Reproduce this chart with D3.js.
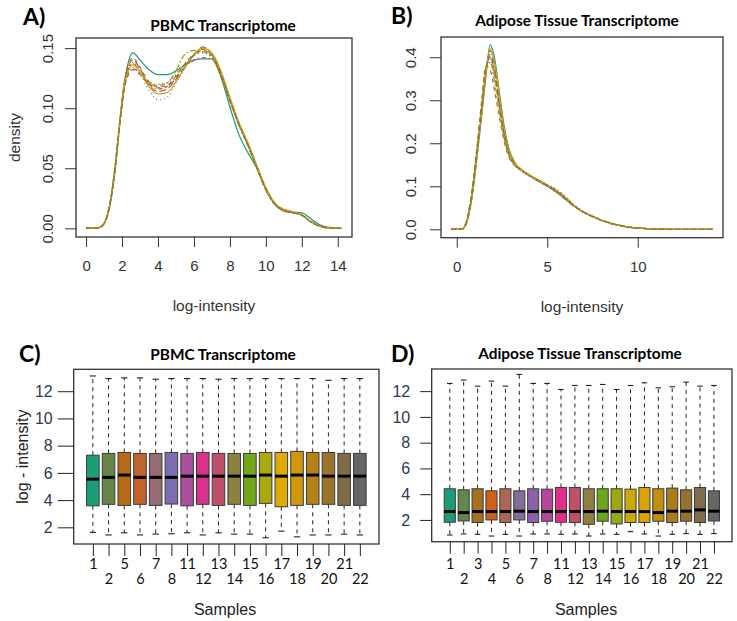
<!DOCTYPE html>
<html><head><meta charset="utf-8">
<script src="https://cdn.jsdelivr.net/npm/d3@7"></script>
<style>body{margin:0;background:#fff}svg{display:block}</style>
</head><body>
<svg id="fig" width="737" height="621"></svg>
<script>
// ---------- DATA ----------
// Panel A: PBMC density curves (log-intensity grid + densities per sample curve)
const pbmcX = [0, 0.7, 1.0, 1.3, 1.6, 1.9, 2.2, 2.6, 3.0, 3.5, 4.0, 4.5, 5.0, 5.5, 6.0, 6.5, 7.0, 7.5, 8.0, 8.5, 9.0, 9.5, 10.0, 10.5, 11.0, 11.5, 12.0, 12.5, 13.0, 13.5, 14.2];
const pbmcDensity1 = [0, 0.0005, 0.004, 0.017, 0.046, 0.090, 0.127, 0.146, 0.140, 0.132, 0.128, 0.128, 0.131, 0.136, 0.140, 0.141, 0.141, 0.126, 0.101, 0.078, 0.063, 0.050, 0.033, 0.021, 0.015, 0.0135, 0.0128, 0.008, 0.003, 0.0008, 0];
const pbmcDensity2 = [0, 0.0005, 0.004, 0.018, 0.049, 0.093, 0.128, 0.142, 0.134, 0.122, 0.118, 0.119, 0.127, 0.137, 0.145, 0.149, 0.143, 0.128, 0.108, 0.088, 0.071, 0.052, 0.033, 0.020, 0.0145, 0.013, 0.011, 0.006, 0.002, 0.0003, 0];
const pbmcDensity3 = [0, 0.0005, 0.004, 0.018, 0.048, 0.090, 0.122, 0.134, 0.128, 0.115, 0.107, 0.109, 0.121, 0.134, 0.144, 0.150, 0.144, 0.129, 0.108, 0.087, 0.070, 0.051, 0.032, 0.020, 0.015, 0.013, 0.011, 0.0055, 0.0018, 0.0003, 0];
const pbmcDensity4 = [0, 0.0005, 0.004, 0.018, 0.048, 0.091, 0.123, 0.133, 0.129, 0.120, 0.116, 0.118, 0.126, 0.134, 0.140, 0.142, 0.141, 0.127, 0.106, 0.086, 0.069, 0.050, 0.032, 0.020, 0.0145, 0.013, 0.011, 0.0055, 0.0018, 0.0003, 0];
const pbmcDensity5 = [0, 0.0005, 0.004, 0.019, 0.050, 0.093, 0.127, 0.140, 0.133, 0.119, 0.114, 0.116, 0.124, 0.134, 0.144, 0.151, 0.145, 0.129, 0.107, 0.086, 0.069, 0.050, 0.032, 0.020, 0.0145, 0.013, 0.011, 0.0055, 0.0018, 0.0003, 0];
const pbmcDensity6 = [0, 0.0005, 0.004, 0.018, 0.049, 0.092, 0.125, 0.137, 0.131, 0.121, 0.119, 0.121, 0.131, 0.145, 0.148, 0.147, 0.142, 0.127, 0.106, 0.086, 0.069, 0.050, 0.032, 0.020, 0.0145, 0.013, 0.011, 0.0055, 0.0018, 0.0003, 0];
const pbmcDensity7 = [0, 0.0005, 0.004, 0.018, 0.049, 0.092, 0.124, 0.136, 0.130, 0.118, 0.112, 0.113, 0.122, 0.134, 0.145, 0.150, 0.146, 0.131, 0.109, 0.088, 0.071, 0.052, 0.034, 0.021, 0.016, 0.014, 0.011, 0.0055, 0.0018, 0.0003, 0];
const pbmcDensity8 = [0, 0.0005, 0.004, 0.018, 0.048, 0.090, 0.121, 0.132, 0.128, 0.120, 0.117, 0.118, 0.125, 0.135, 0.144, 0.148, 0.144, 0.129, 0.107, 0.087, 0.070, 0.051, 0.033, 0.020, 0.015, 0.013, 0.011, 0.0055, 0.0018, 0.0003, 0];
const pbmcDensity9 = [0, 0.0005, 0.004, 0.018, 0.049, 0.092, 0.126, 0.138, 0.132, 0.122, 0.120, 0.121, 0.128, 0.137, 0.144, 0.146, 0.142, 0.127, 0.106, 0.086, 0.069, 0.050, 0.032, 0.020, 0.0145, 0.013, 0.011, 0.0055, 0.0018, 0.0003, 0];

// Panel B: Adipose density curves
const adiposeX = [-0.3, 0.3, 0.55, 0.83, 1.1, 1.38, 1.6, 1.85, 2.1, 2.35, 2.6, 2.9, 3.2, 3.6, 4.0, 4.5, 5.0, 5.5, 6.0, 6.5, 7.0, 7.5, 8.0, 8.5, 9.0, 9.5, 10.0, 10.5, 11.2, 12.0, 14.14];
const adiposeDensity1 = [0, 0.001, 0.015, 0.070, 0.160, 0.265, 0.352, 0.429, 0.395, 0.320, 0.245, 0.185, 0.156, 0.138, 0.126, 0.113, 0.100, 0.087, 0.070, 0.053, 0.040, 0.030, 0.021, 0.014, 0.009, 0.005, 0.003, 0.0015, 0.0005, 0, 0];
const adiposeDensity2 = [0, 0.001, 0.021, 0.088, 0.185, 0.300, 0.380, 0.370, 0.320, 0.262, 0.208, 0.166, 0.148, 0.136, 0.125, 0.115, 0.103, 0.090, 0.072, 0.054, 0.040, 0.030, 0.021, 0.014, 0.009, 0.005, 0.003, 0.0015, 0.0005, 0, 0];
const adiposeDensity3 = [0, 0.001, 0.019, 0.083, 0.178, 0.288, 0.372, 0.395, 0.352, 0.282, 0.218, 0.170, 0.149, 0.135, 0.124, 0.116, 0.105, 0.094, 0.076, 0.056, 0.041, 0.030, 0.021, 0.014, 0.009, 0.005, 0.003, 0.0015, 0.0005, 0, 0];
const adiposeDensity4 = [0, 0.001, 0.017, 0.076, 0.168, 0.275, 0.362, 0.415, 0.378, 0.305, 0.232, 0.178, 0.153, 0.137, 0.127, 0.113, 0.100, 0.086, 0.070, 0.053, 0.039, 0.029, 0.020, 0.013, 0.008, 0.005, 0.003, 0.0015, 0.0005, 0, 0];
const adiposeDensity5 = [0, 0.001, 0.018, 0.081, 0.176, 0.283, 0.366, 0.400, 0.360, 0.290, 0.225, 0.176, 0.152, 0.137, 0.125, 0.112, 0.101, 0.091, 0.075, 0.055, 0.040, 0.030, 0.021, 0.014, 0.009, 0.005, 0.003, 0.0015, 0.0005, 0, 0];
const adiposeDensity6 = [0, 0.001, 0.020, 0.085, 0.180, 0.292, 0.375, 0.388, 0.340, 0.275, 0.215, 0.170, 0.150, 0.137, 0.127, 0.116, 0.103, 0.088, 0.071, 0.054, 0.040, 0.030, 0.021, 0.014, 0.009, 0.005, 0.003, 0.0015, 0.0005, 0, 0];
const adiposeDensity7 = [0, 0.001, 0.016, 0.073, 0.163, 0.270, 0.357, 0.420, 0.385, 0.312, 0.238, 0.182, 0.155, 0.138, 0.126, 0.114, 0.102, 0.090, 0.073, 0.055, 0.040, 0.030, 0.021, 0.014, 0.009, 0.005, 0.003, 0.0015, 0.0005, 0, 0];
const adiposeDensity8 = [0, 0.001, 0.018, 0.080, 0.173, 0.280, 0.368, 0.405, 0.362, 0.290, 0.222, 0.172, 0.150, 0.136, 0.125, 0.114, 0.102, 0.089, 0.072, 0.054, 0.040, 0.030, 0.021, 0.014, 0.009, 0.005, 0.003, 0.0015, 0.0005, 0, 0];
const adiposeDensity9 = [0, 0.001, 0.018, 0.079, 0.172, 0.279, 0.364, 0.410, 0.368, 0.296, 0.228, 0.175, 0.151, 0.136, 0.124, 0.112, 0.101, 0.089, 0.073, 0.055, 0.041, 0.031, 0.022, 0.015, 0.009, 0.005, 0.003, 0.0015, 0.0005, 0, 0];

// Panel C: PBMC boxplots
const pbmcSamples = ["1","2","5","6","7","8","11","12","13","14","15","16","17","18","19","20","21","22"];
const pbmcLow  = [1.63,1.44,1.60,1.44,1.50,1.53,1.60,1.44,1.60,1.50,1.50,1.23,1.72,1.30,1.44,1.44,1.50,1.44];
const pbmcQ1   = [3.58,3.69,3.61,3.69,3.61,3.71,3.58,3.69,3.61,3.69,3.61,3.76,3.51,3.61,3.69,3.69,3.61,3.61];
const pbmcMed  = [5.54,5.67,5.84,5.67,5.67,5.67,5.76,5.76,5.76,5.76,5.76,5.84,5.76,5.84,5.84,5.76,5.76,5.76];
const pbmcQ3   = [7.30,7.43,7.50,7.43,7.43,7.50,7.43,7.50,7.43,7.43,7.43,7.50,7.50,7.58,7.50,7.50,7.43,7.43];
const pbmcHigh = [13.12,12.93,12.98,12.98,12.88,12.93,12.93,12.93,12.88,12.93,12.93,12.93,12.93,12.93,12.93,12.80,12.93,12.93];

// Panel D: Adipose boxplots
const adiposeSamples = ["1","2","3","4","5","6","7","8","11","12","13","14","15","16","17","18","19","20","21","22"];
const adiposeLow  = [0.83,0.91,0.88,0.75,0.88,0.75,0.91,0.91,0.88,0.91,0.75,0.91,0.88,1.09,0.91,0.75,0.88,0.94,0.88,0.94];
const adiposeQ1   = [1.82,1.92,1.80,2.00,1.80,2.00,1.80,1.90,1.82,1.80,1.66,1.90,1.69,1.80,1.80,1.90,1.80,1.90,1.80,1.92];
const adiposeMed  = [2.65,2.57,2.65,2.65,2.65,2.68,2.65,2.65,2.65,2.65,2.65,2.68,2.65,2.65,2.65,2.57,2.68,2.68,2.78,2.68];
const adiposeQ3   = [4.42,4.34,4.42,4.26,4.42,4.26,4.42,4.39,4.52,4.52,4.42,4.42,4.42,4.39,4.52,4.42,4.47,4.34,4.52,4.26];
const adiposeHigh = [12.60,12.86,12.39,12.78,12.39,13.30,12.60,12.60,12.13,12.44,12.44,12.52,12.13,12.44,12.65,12.26,12.34,12.70,12.39,12.44];

// Tick labels
const pbmcDensityXTicks = [0,2,4,6,8,10,12,14];
const pbmcDensityYTicks = [0,0.05,0.10,0.15];
const adiposeDensityXTicks = [0,5,10];
const adiposeDensityYTicks = [0,0.1,0.2,0.3,0.4];
const boxYTicks = [2,4,6,8,10,12];

// ---------- DRAWING ----------
const svg = d3.select("#fig");
svg.append("rect").attr("width",737).attr("height",621).attr("fill","#fff");
const ramp = d3.piecewise(d3.interpolateRgb, d3.schemeDark2);
const ltys = [null, "4,4", "1,3", "1,3,4,3", "7,3", "2,2,6,2"];
const AX = "Liberation Sans, Arial, sans-serif";
const CAL = "Lato, 'Open Sans', sans-serif";

function panelLabel(txt, x, y){
  svg.append("text").attr("x",x).attr("y",y).attr("font-family",CAL).attr("font-weight",700)
    .attr("font-size",23).attr("fill","#000").attr("dominant-baseline","central").text(txt);
}
function title(txt, x, y){
  svg.append("text").attr("x",x).attr("y",y).attr("text-anchor","middle").attr("dominant-baseline","central")
    .attr("font-family",CAL).attr("font-weight",700).attr("font-size",15.4).attr("fill","#000").text(txt);
}
function box(x0,y0,x1,y1){
  svg.append("rect").attr("x",x0).attr("y",y0).attr("width",x1-x0).attr("height",y1-y0)
    .attr("fill","none").attr("stroke","#333").attr("stroke-width",1.3);
}

function densityPanel(opts){
  const x = d3.scaleLinear().domain(opts.xd).range([opts.x0,opts.x1]);
  const y = d3.scaleLinear().domain(opts.yd).range([opts.y1,opts.y0]);
  const g = svg.append("g");
  const line = d3.line().x((d,i)=>x(opts.xs[i])).y(d=>y(d)).curve(d3.curveMonotoneX);
  const n = opts.series.length;
  opts.series.forEach((s,i)=>{
    g.append("path").attr("d",line(s)).attr("fill","none")
      .attr("stroke", ramp(n===1?0:i/(n-1))).attr("stroke-width",1.25)
      .attr("stroke-dasharray", ltys[i%ltys.length]);
  });
  box(opts.x0,opts.y0,opts.x1,opts.y1);
  // x axis
  const gx = svg.append("g").attr("transform",`translate(0,${opts.y1})`)
    .call(d3.axisBottom(x).tickValues(opts.xt).tickSize(10).tickSizeOuter(0).tickFormat(d3.format("d")));
  gx.select(".domain").remove();
  gx.selectAll("line").attr("stroke","#333");
  gx.selectAll("text").attr("y",29).attr("dy","0.35em").attr("font-family",AX).attr("font-size",15).attr("fill","#333");
  // y axis
  const gy = svg.append("g").attr("transform",`translate(${opts.x0},0)`)
    .call(d3.axisLeft(y).tickValues(opts.yt).tickSize(11).tickSizeOuter(0).tickFormat(d3.format(opts.yf)));
  gy.select(".domain").remove();
  gy.selectAll("line").attr("stroke","#333");
  gy.selectAll("text").attr("transform","rotate(-90)").attr("x",0).attr("y",-opts.ylab).attr("dy","0.35em")
    .attr("text-anchor","middle").attr("font-family",AX).attr("font-size",15).attr("fill","#333");
  svg.append("text").attr("x",(opts.x0+opts.x1)/2).attr("y",opts.xtitleY).attr("text-anchor","middle")
    .attr("dominant-baseline","central").attr("font-family",AX).attr("font-size",15.5).attr("fill","#333").text("log-intensity");
  if(opts.ytitle){
    svg.append("text").attr("transform",`translate(${opts.ytitleX},${(opts.y0+opts.y1)/2}) rotate(-90)`)
      .attr("text-anchor","middle").attr("dominant-baseline","central").attr("font-family",AX)
      .attr("font-size",15.5).attr("fill","#333").text(opts.ytitle);
  }
}

function boxPanel(opts){
  const n = opts.labels.length;
  const x = d3.scaleLinear().domain([0.5-0.04*n, n+0.5+0.04*n]).range([opts.x0,opts.x1]);
  const y = d3.scaleLinear().domain(opts.yd).range([opts.y1,opts.y0]);
  const bw = (x(1)-x(0))*0.8;
  const g = svg.append("g");
  opts.labels.forEach((lab,i)=>{
    const cx = x(i+1);
    const col = ramp(i/(n-1));
    g.append("line").attr("x1",cx).attr("x2",cx).attr("y1",y(opts.q3[i])).attr("y2",y(opts.hi[i]))
      .attr("stroke","#222").attr("stroke-width",1).attr("stroke-dasharray","4,4");
    g.append("line").attr("x1",cx).attr("x2",cx).attr("y1",y(opts.q1[i])).attr("y2",y(opts.lo[i]))
      .attr("stroke","#222").attr("stroke-width",1).attr("stroke-dasharray","4,4");
    g.append("line").attr("x1",cx-bw/4).attr("x2",cx+bw/4).attr("y1",y(opts.hi[i])).attr("y2",y(opts.hi[i]))
      .attr("stroke","#222").attr("stroke-width",1.1);
    g.append("line").attr("x1",cx-bw/4).attr("x2",cx+bw/4).attr("y1",y(opts.lo[i])).attr("y2",y(opts.lo[i]))
      .attr("stroke","#222").attr("stroke-width",1.1);
    g.append("rect").attr("x",cx-bw/2).attr("width",bw).attr("y",y(opts.q3[i])).attr("height",y(opts.q1[i])-y(opts.q3[i]))
      .attr("fill",col).attr("stroke","#3a3a3a").attr("stroke-width",1);
    g.append("line").attr("x1",cx-bw/2).attr("x2",cx+bw/2).attr("y1",y(opts.med[i])).attr("y2",y(opts.med[i]))
      .attr("stroke","#000").attr("stroke-width",3);
  });
  box(opts.x0,opts.y0,opts.x1,opts.y1);
  const gx = svg.append("g").attr("transform",`translate(0,${opts.y1})`)
    .call(d3.axisBottom(x).tickValues(d3.range(1,n+1)).tickSize(12).tickSizeOuter(0).tickFormat(d=>opts.labels[d-1]));
  gx.select(".domain").remove();
  gx.selectAll("line").attr("stroke","#222");
  gx.selectAll("text").attr("y",(d,i)=> i%2===0 ? opts.row1 : opts.row2).attr("dy","0.35em")
    .attr("font-family",CAL).attr("font-size",14.5).attr("fill","#111");
  const gy = svg.append("g").attr("transform",`translate(${opts.x0},0)`)
    .call(d3.axisLeft(y).tickValues(boxYTicks).tickSize(opts.tick).tickPadding(opts.pad).tickSizeOuter(0));
  gy.select(".domain").remove();
  gy.selectAll("line").attr("stroke","#222");
  gy.selectAll("text").attr("font-family",AX).attr("font-size",16).attr("fill","#2c3a55");
  svg.append("text").attr("x",opts.sx).attr("y",609).attr("text-anchor","middle").attr("dominant-baseline","central")
    .attr("font-family",AX).attr("font-size",16).attr("fill","#222").text("Samples");
  if(opts.ytitle){
    svg.append("text").attr("transform",`translate(22,${(opts.y0+opts.y1)/2}) rotate(-90)`)
      .attr("text-anchor","middle").attr("dominant-baseline","central").attr("font-family",AX)
      .attr("font-size",16).attr("fill","#222").text(opts.ytitle);
  }
}

// Panel A
panelLabel("A)", 23, 16);
title("PBMC Transcriptome", 223, 25);
densityPanel({x0:76,x1:352,y0:38,y1:237, xd:[-0.56,14.79], yd:[-0.0072,0.1584],
  xs:pbmcX, series:[pbmcDensity1,pbmcDensity2,pbmcDensity3,pbmcDensity4,pbmcDensity5,pbmcDensity6,pbmcDensity7,pbmcDensity8,pbmcDensity9],
  xt:pbmcDensityXTicks, yt:pbmcDensityYTicks, yf:".2f", ylab:28.5, xtitleY:305, ytitle:"density", ytitleX:14});

// Panel B
panelLabel("B)", 391, 15);
title("Adipose Tissue Transcriptome", 577, 20);
densityPanel({x0:441,x1:723,y0:37,y1:237.7, xd:[-0.87,14.71], yd:[-0.0195,0.447],
  xs:adiposeX, series:[adiposeDensity1,adiposeDensity2,adiposeDensity3,adiposeDensity4,adiposeDensity5,adiposeDensity6,adiposeDensity7,adiposeDensity8,adiposeDensity9],
  xt:adiposeDensityXTicks, yt:adiposeDensityYTicks, yf:".1f", ylab:30.5, xtitleY:306.5});

// Panel C
panelLabel("C)", 19, 353);
title("PBMC Transcriptome", 223, 354);
boxPanel({x0:73.7,x1:379,y0:369.3,y1:544, yd:[0.775,13.61], labels:pbmcSamples,
  lo:pbmcLow,q1:pbmcQ1,med:pbmcMed,q3:pbmcQ3,hi:pbmcHigh, row1:20, row2:34.5, tick:16, pad:5, sx:225, ytitle:"log - intensity"});

// Panel D
panelLabel("D)", 391, 353);
title("Adipose Tissue Transcriptome", 580, 353);
boxPanel({x0:431.7,x1:732,y0:369,y1:541.7, yd:[0.31,13.72], labels:adiposeSamples,
  lo:adiposeLow,q1:adiposeQ1,med:adiposeMed,q3:adiposeQ3,hi:adiposeHigh, row1:22, row2:37.5, tick:11.5, pad:10, sx:586});
</script>
</body></html>
